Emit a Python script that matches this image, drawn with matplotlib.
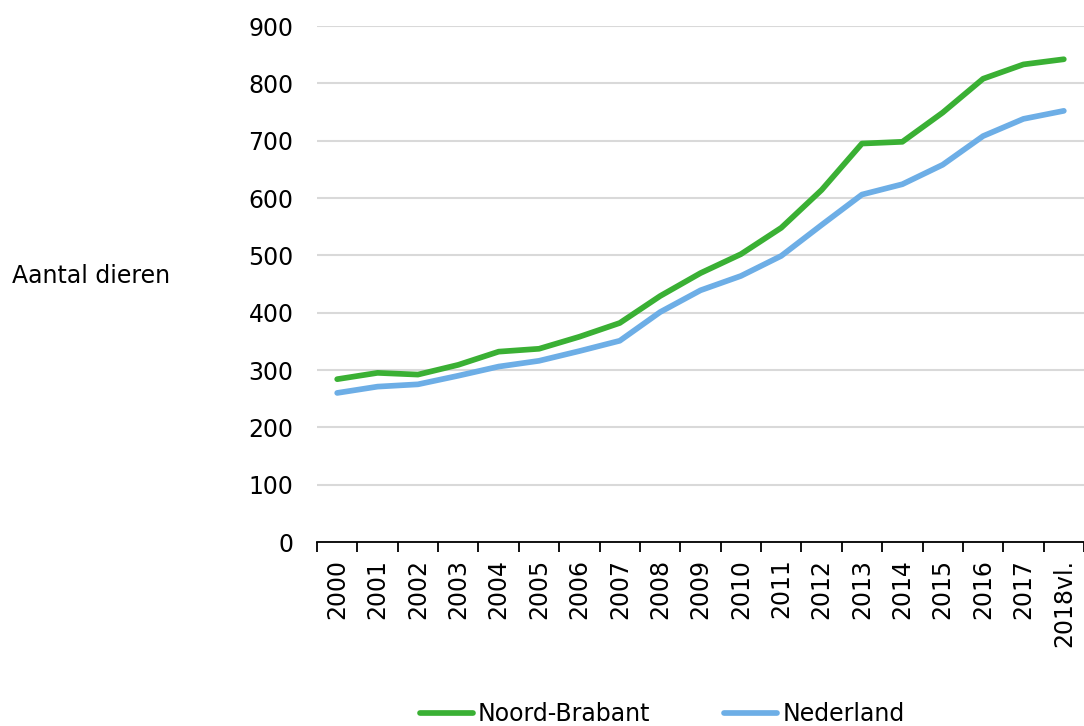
import matplotlib
matplotlib.use("Agg")
import matplotlib.pyplot as plt
import numpy as np

plt.rcParams['font.family'] = ['DejaVu Sans']

years = ["2000", "2001", "2002", "2003", "2004", "2005", "2006", "2007", "2008", "2009",
         "2010", "2011", "2012", "2013", "2014", "2015", "2016", "2017", "2018vl."]
noord_brabant = [284, 295, 292, 309, 332, 337, 358, 382, 429, 469,
                 502, 548, 614, 695, 698, 749, 808, 833, 842]
nederland = [260, 271, 275, 290, 306, 316, 333, 351, 401, 439,
             464, 499, 553, 606, 624, 658, 708, 738, 752]
yticks = [0, 100, 200, 300, 400, 500, 600, 700, 800, 900]

FS = 17

fig = plt.figure(figsize=(10.84, 7.26), dpi=100)
ax = fig.add_axes([317/1084, 1 - 542/726, 1 - 317/1084, (542 - 26)/726])

x = np.arange(len(years))
ax.plot(x, noord_brabant, color='#3AB034', lw=4.1, solid_capstyle='round',
        solid_joinstyle='round', label='Noord-Brabant', zorder=3)
ax.plot(x, nederland, color='#6DAEE6', lw=4.1, solid_capstyle='round',
        solid_joinstyle='round', label='Nederland', zorder=3)

ax.set_xlim(-0.5, len(years) - 0.5)
ax.set_ylim(0, 900)
ax.set_yticks(yticks)
ax.set_yticklabels([str(v) for v in yticks], fontsize=FS)
ax.tick_params(axis='y', length=0, pad=17)
ax.yaxis.grid(True, color='#D9D9D9', lw=1.5)
ax.set_axisbelow(True)

ax.set_xticks(x)
ax.set_xticklabels(years, rotation=90, fontsize=FS, va='top')
ax.tick_params(axis='x', which='major', length=0, pad=12)
ax.set_xticks(np.arange(len(years) + 1) - 0.5, minor=True)
ax.tick_params(axis='x', which='minor', length=7, width=1.3, color='black', direction='out')

for s in ['top', 'right', 'left']:
    ax.spines[s].set_visible(False)
ax.spines['bottom'].set_color('black')
ax.spines['bottom'].set_linewidth(1.3)

fig.text(12/1084, 1 - 276/726, 'Aantal dieren', fontsize=FS, ha='left', va='center')

fig.legend(loc='center', bbox_to_anchor=(662/1084, 1 - 714/726), ncol=2, frameon=False,
           fontsize=FS, handlelength=2.25, handletextpad=0.2, columnspacing=3.15)

fig.savefig('out.png', dpi=100)
